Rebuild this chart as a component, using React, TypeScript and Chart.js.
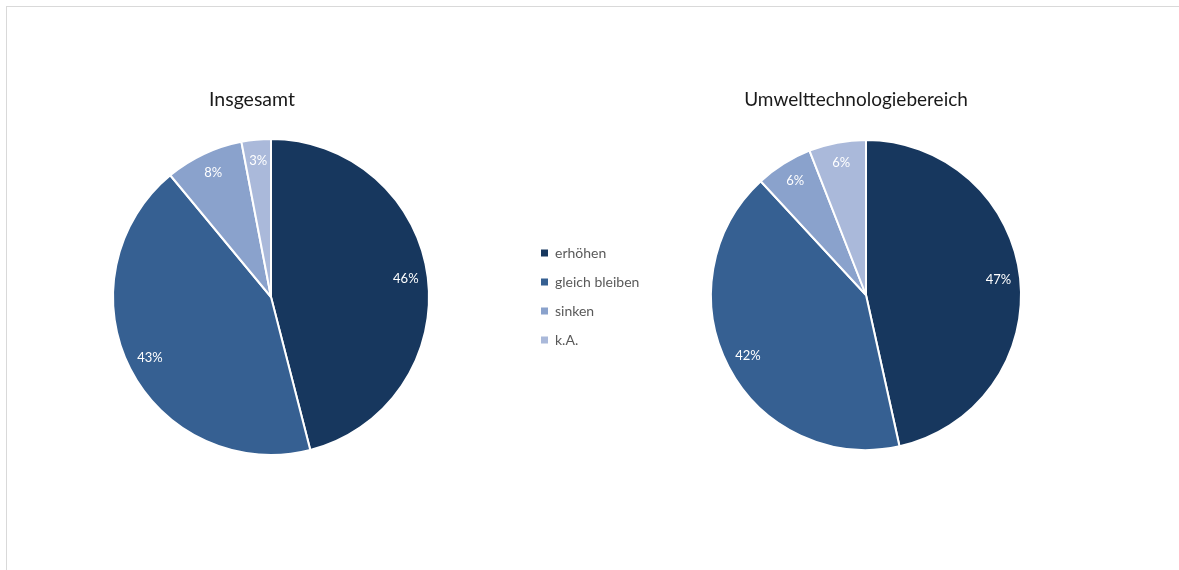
import React, { useEffect, useRef } from "react";
import { Chart, registerables } from "chart.js";

Chart.register(...registerables);

const categories = ["erhöhen", "gleich bleiben", "sinken", "k.A."];
const insgesamtValues = [46, 43, 8, 3];
const umweltValues = [47, 42, 6, 6];
const chartTitles = ["Insgesamt", "Umwelttechnologiebereich"];
const sliceColors = ["#17375e", "#366092", "#8aa2cc", "#aab9da"];

const FONT = "Lato, 'Open Sans', sans-serif";

const pieLabelPlugin = {
  id: "pieLabels",
  afterDatasetsDraw(chart: any) {
    const ctx = chart.ctx;
    const ds = chart.data.datasets[0];
    const meta = chart.getDatasetMeta(0);
    ctx.save();
    ctx.font = `13px ${FONT}`;
    ctx.fillStyle = "#ffffff";
    ctx.textAlign = "center";
    ctx.textBaseline = "middle";
    meta.data.forEach((arc: any, i: number) => {
      const p = arc.getProps(["x", "y", "startAngle", "endAngle", "outerRadius"], true);
      const mid = (p.startAngle + p.endAngle) / 2;
      const r = p.outerRadius * 0.86;
      ctx.fillText(ds.data[i] + "%", p.x + Math.cos(mid) * r, p.y + Math.sin(mid) * r - 1);
    });
    ctx.restore();
  },
};

const titlePlugin = {
  id: "offsetTitle",
  afterDraw(chart: any) {
    const opts = chart.options.plugins.offsetTitle;
    if (!opts) return;
    const ctx = chart.ctx;
    const a = chart.chartArea;
    ctx.save();
    ctx.font = `${opts.size}px ${FONT}`;
    ctx.fillStyle = "#1a1a1a";
    ctx.textAlign = "center";
    ctx.textBaseline = "middle";
    ctx.fillText(opts.text, (a.left + a.right) / 2 + opts.dx, a.top - opts.dy);
    ctx.restore();
  },
};

function makePie(canvas: HTMLCanvasElement, values: number[], title: string, radius: number, padding: any, dx: number, dy: number, size: number) {
  return new Chart(canvas, {
    type: "pie",
    data: {
      labels: categories,
      datasets: [
        {
          data: values,
          backgroundColor: sliceColors,
          borderColor: "#ffffff",
          borderWidth: 2,
          radius: radius,
        } as any,
      ],
    },
    options: {
      animation: false,
      responsive: false,
      maintainAspectRatio: false,
      layout: { padding },
      plugins: {
        legend: { display: false },
        tooltip: { enabled: false },
        title: { display: false },
        offsetTitle: { text: title, dx, dy, size },
      } as any,
    },
    plugins: [pieLabelPlugin, titlePlugin],
  });
}

export default function App() {
  const leftRef = useRef<HTMLCanvasElement>(null);
  const rightRef = useRef<HTMLCanvasElement>(null);
  const legendRef = useRef<HTMLCanvasElement>(null);

  useEffect(() => {
    document.body.style.margin = "0";
    document.body.style.overflow = "hidden";
    const left = makePie(leftRef.current!, insgesamtValues, chartTitles[0], 158, { top: 140, bottom: 116, left: 0, right: 0 }, -19, 40, 19.5);
    const right = makePie(rightRef.current!, umweltValues, chartTitles[1], 155, { top: 141, bottom: 121, left: 0, right: 0 }, -10, 41, 19);
    const legend = new Chart(legendRef.current!, {
      type: "pie",
      data: {
        labels: categories,
        datasets: [
          {
            data: insgesamtValues,
            backgroundColor: sliceColors,
            borderWidth: 0,
            radius: 0,
          } as any,
        ],
      },
      options: {
        animation: false,
        responsive: false,
        maintainAspectRatio: false,
        plugins: {
          tooltip: { enabled: false },
          legend: {
            position: "left",
            align: "start",
            labels: {
              boxWidth: 7,
              boxHeight: 7,
              padding: 15,
              color: "#595959",
              font: { size: 14, family: FONT },
            },
          },
        },
      },
    });
    return () => {
      left.destroy();
      right.destroy();
      legend.destroy();
    };
  }, []);

  return (
    <div style={{ position: "relative", width: 1179, height: 570, background: "#fff", overflow: "hidden" }}>
      <div
        style={{
          position: "absolute",
          left: 6,
          top: 6,
          width: 1300,
          height: 700,
          borderTop: "1px solid #d9d9d9",
          borderLeft: "1px solid #d9d9d9",
        }}
      />
      <canvas ref={leftRef} width={542} height={570} style={{ position: "absolute", left: 0, top: 0 }} />
      <canvas ref={rightRef} width={560} height={570} style={{ position: "absolute", left: 586, top: 0 }} />
      <canvas ref={legendRef} width={320} height={150} style={{ position: "absolute", left: 526, top: 231 }} />
    </div>
  );
}
